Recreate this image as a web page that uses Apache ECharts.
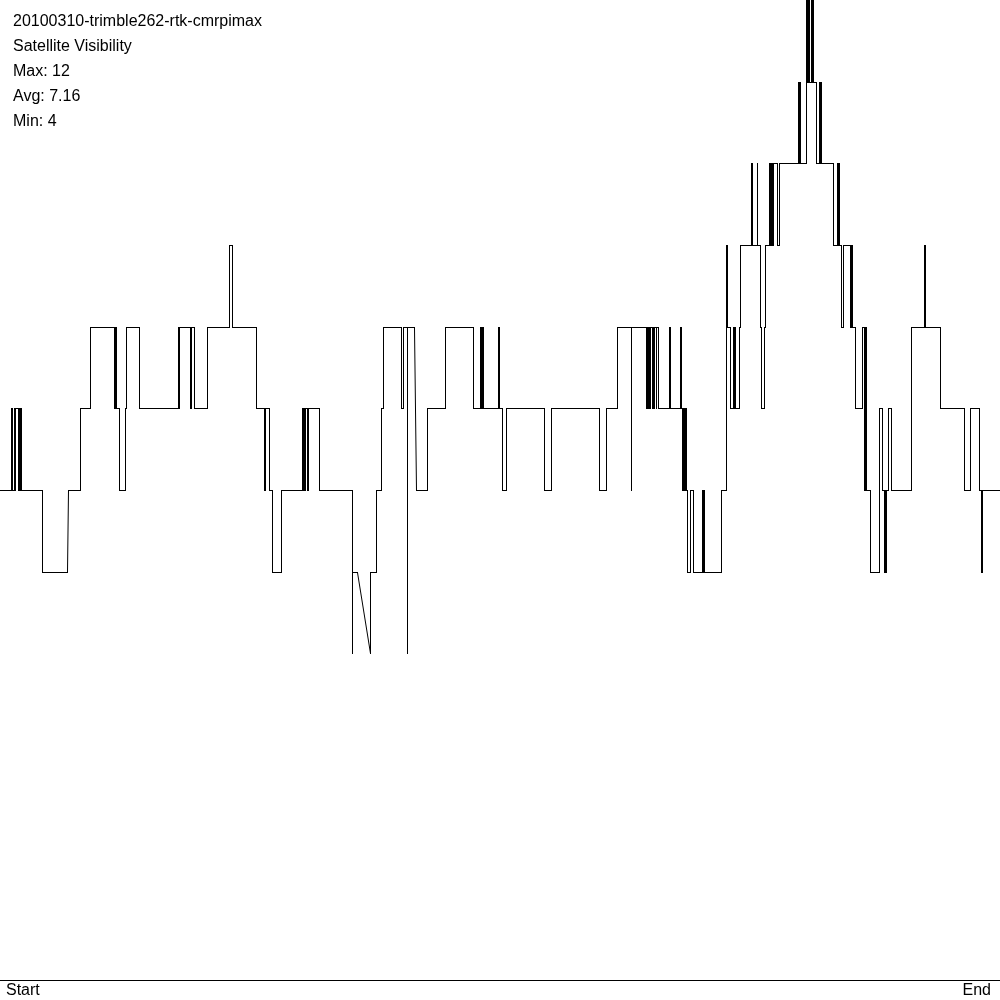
<!DOCTYPE html>
<html>
<head>
<meta charset="utf-8">
<script src="https://cdn.jsdelivr.net/npm/echarts@6/dist/echarts.min.js"></script>
<style>
html,body{margin:0;padding:0;background:#fff;}
#chart{width:1000px;height:1000px;}
</style>
</head>
<body>
<div id="chart"></div>
<script>
// Header text lines
var headerLines = ["20100310-trimble262-rtk-cmrpimax", "Satellite Visibility", "Max: 12", "Avg: 7.16", "Min: 4"];
var axisEndLabels = ["Start", "End"];

// Samples: [time (0 = start, 1000 = end), visible satellites]
var samplesPart1 = [
  [0,6],[10.7,6],[10.7,7],[12,7],[12,6],[14.3,6],[14.3,7],[14.8,7],[14.8,6],[15.3,6],[15.3,7],
  [17.7,7],[17.7,6],[18.3,6],[18.3,7],[18.9,7],[18.9,6],[19.5,6],[19.5,7],[20.1,7],[20.1,6],[20.4,6],[20.4,7],[20.7,7],[20.7,6],
  [42.3,6],[42.3,5],[67.3,5],[68.3,6],[80.3,6],[80.3,7],[90.3,7],[90.3,8],
  [114.3,8],[114.3,7],[114.8,7],[114.8,8],[115.3,8],[115.3,7],[115.8,7],[115.8,8],[116.3,8],[116.3,7],
  [119.3,7],[119.3,6],[125.3,6],[125.3,7],[126.3,7],[126.3,8],[139.3,8],[139.3,7]
];
var samplesPart2 = [
  [178.3,7],[178.3,8],[178.8,8],[178.8,7],[179.3,7],[179.3,8],
  [190.3,8],[190.3,7],[191.2,7],[191.2,8],[193.7,8],[193.7,7],
  [207.3,7],[207.3,8],[229.3,8],[229.3,9],[232.3,9],[232.3,8],[255.7,8],[255.7,7],
  [264.3,7],[264.3,6],[265.3,6],[265.3,7],[269.3,7],[269.3,6],[272.3,6],[272.3,5],[281.3,5],[281.3,6],
  [302.3,6],[302.3,7],[302.8,7],[302.8,6],[303.4,6],[303.4,7],[304,7],[304,6],[304.6,6],[304.6,7],
  [306.7,7],[306.7,6],[308.3,6],[308.3,7],[319.3,7],[319.3,6]
];
var samplesPart3 = [
  [352.3,6],[352.3,4],[352.4,5],[356.7,5],[370,4],[370,5],[376,5],[376,6],[381,6],[381,7],[383.3,7],[383.3,8],
  [401.3,8],[401.3,7],[403,7],[403,8],[407.3,8],[407.3,4],[407.4,4],[407.4,8],[414.3,8],[415.7,6],
  [427,6],[427,7],[445.3,7],[445.3,8],[473.3,8],[473.3,7],[480.3,7],[480.3,8],[481,8],[481,7],
  [481.5,7],[481.5,8],[482.1,8],[482.1,7],[482.7,7],[482.7,8],[483.3,8],[483.3,7]
];
var samplesPart4 = [
  [498.3,7],[498.3,8],[498.8,8],[498.8,7],[502.3,7],[502.3,6],[506.3,6],[506.3,7],[544.3,7],[544.3,6],
  [551.3,6],[551.3,7],[598.7,7],[598.7,6],[606.3,6],[606.3,7],[617.3,7],[617.3,8],[630.5,8],[630.5,6],[631,6],[631,8],
  [646,8],[646,7],[646.6,7],[646.6,8],[647.2,8],[647.2,7],[647.8,7],[647.8,8],[648.4,8],[648.4,7],[649,7],[649,8],
  [649.6,8],[649.6,7],[650.2,7],[650.2,8],
  [652.2,8],[652.2,7],[652.8,7],[652.8,8],[653.3,8],[653.3,7],[653.8,7],[653.8,8],
  [655.6,8],[655.6,7],[655.8,7],[655.8,8],[657.6,8],[657.6,7],
  [669.3,7],[669.3,8],[670.3,8],[670.3,7],[680,7],[680,8],[681.3,8],[681.3,7]
];
var samplesPart5 = [
  [682.3,7],[682.3,6],[682.8,6],[682.8,7],[683.3,7],[683.3,6],[683.8,6],[683.8,7],[684.3,7],[684.3,6],
  [684.8,6],[684.8,7],[685.3,7],[685.3,6],[685.8,6],[685.8,7],[686.3,7],[686.3,6],
  [686.7,6],[686.7,5],[690,5],[690,6],[693.3,6],[693.3,5],[702.3,5],[702.3,6],[702.7,6],[702.7,5],[703.2,5],[703.2,6],[703.5,6],[703.5,5],
  [720.7,5],[720.7,6],[726.3,6],[726.3,9],[726.8,9],[726.8,8],[730,8],[730,7],
  [733.3,7],[733.3,8],[733.8,8],[733.8,7],[734.3,7],[734.3,8],[734.7,8],[734.7,7],[739,7],[739,8],[740.3,8],[740.3,9],
  [750.7,9],[750.7,10],[752.3,10],[752.3,9],[756.7,9],[756.7,10],[756.9,10],[756.9,9],
  [760,9],[760,8],[761.3,8],[761.3,7],[763.7,7],[763.7,8],[765.3,8],[765.3,9],
  [769.3,9],[769.3,10],[769.8,10],[769.8,9],[770.3,9],[770.3,10],[770.8,10],[770.8,9],[771.3,9],[771.3,10],
  [771.8,10],[771.8,9],[772.3,9],[772.3,10],[772.8,10],[772.8,9],[773.3,9],[773.3,10],
  [777.3,10],[777.3,9],[779,9],[779,10],[797.5,10],[797.5,11],[798.2,11],[798.2,10],[798.8,10],[798.8,11],[800,11],[800,10]
];
var samplesPart6 = [
  [805.7,10],[805.7,12],[807.3,12],[807.3,11],[808.3,11],[808.3,12],[809.3,12],[809.3,11],
  [811.3,11],[811.3,12],[812.3,12],[812.3,11],[812.8,11],[812.8,12],[813.3,12],[813.3,11],
  [815.7,11],[815.7,10],[819.3,10],[819.3,11],[819.8,11],[819.8,10],[820.3,10],[820.3,11],[820.7,11],[820.7,10],
  [833.3,10],[833.3,9],[837.3,9],[837.3,10],[837.7,10],[837.7,9],[838.3,9],[838.3,10],[838.7,10],[838.7,9],
  [841.3,9],[841.3,8],[843.3,8],[843.3,9],[850.3,9],[850.3,8],[850.8,8],[850.8,9],[851.3,9],[851.3,8],
  [851.8,8],[851.8,9],[852.3,9],[852.3,8],[855.3,8],[855.3,7],[862.3,7],[862.3,8],
  [864.3,8],[864.3,6],[864.8,6],[864.8,8],[865.3,8],[865.3,6],[865.8,6],[865.8,8],[866.3,8],[866.3,6],
  [870.3,6],[870.3,5],[879.3,5],[879.3,7],[882.3,7],[882.3,6],[883.7,6],[883.7,5],[884.3,5],[884.3,6],
  [885,6],[885,5],[885.6,5],[885.6,6],[888.3,6],[888.3,7],[891.3,7],[891.3,6],[911.3,6],[911.3,8],
  [923.7,8],[923.7,9],[924.2,9],[924.2,8],[924.7,8],[924.7,9],[925,9],[925,8],[940.3,8],[940.3,7],
  [964.3,7],[964.3,6],[970.3,6],[970.3,7],[979.3,7],[979.3,6],[981.3,6],[981.3,5],[981.5,5],[981.5,6],[1000,6]
];

var samples = [].concat(samplesPart1, samplesPart2, samplesPart3, samplesPart4, samplesPart5, samplesPart6);

// consecutive sample pairs -> segments [t1, v1, t2, v2]
var segments = [];
for (var i = 1; i < samples.length; i++) {
  segments.push([samples[i - 1][0], samples[i - 1][1], samples[i][0], samples[i][1]]);
}

function snap(v) { return Math.round(v) + 0.5; }

var chart = echarts.init(document.getElementById('chart'), null, {renderer: 'canvas'});
var font = "'Liberation Sans', Arial, sans-serif";
chart.setOption({
  animation: false,
  backgroundColor: '#ffffff',
  title: {
    text: headerLines.join('\n'),
    left: 13,
    top: 9,
    padding: 0,
    textStyle: {fontFamily: font, fontSize: 16, fontWeight: 'normal', color: '#000', lineHeight: 25}
  },
  grid: {left: 0, right: 0, top: 0, bottom: 20, containLabel: false},
  xAxis: {
    type: 'value', min: 0, max: 1000,
    axisLine: {show: true, onZero: false, lineStyle: {color: '#000', width: 1}},
    axisTick: {show: false}, axisLabel: {show: false}, splitLine: {show: false}
  },
  yAxis: {
    type: 'value', min: 0, max: 12, show: false, splitLine: {show: false}
  },
  graphic: [
    {type: 'text', left: 6, top: 983, style: {text: axisEndLabels[0], font: '16px ' + font, fill: '#000'}},
    {type: 'text', right: 9, top: 983, style: {text: axisEndLabels[1], font: '16px ' + font, fill: '#000'}}
  ],
  series: [{
    type: 'custom',
    data: segments,
    encode: {x: [0, 2], y: [1, 3]},
    silent: true,
    clip: false,
    renderItem: function (params, api) {
      var p1 = api.coord([api.value(0), api.value(1)]);
      var p2 = api.coord([api.value(2), api.value(3)]);
      return {
        type: 'line',
        shape: {x1: snap(p1[0]), y1: snap(p1[1]), x2: snap(p2[0]), y2: snap(p2[1])},
        style: {stroke: '#000', lineWidth: 1, lineCap: 'square'}
      };
    }
  }]
});
</script>
</body>
</html>
